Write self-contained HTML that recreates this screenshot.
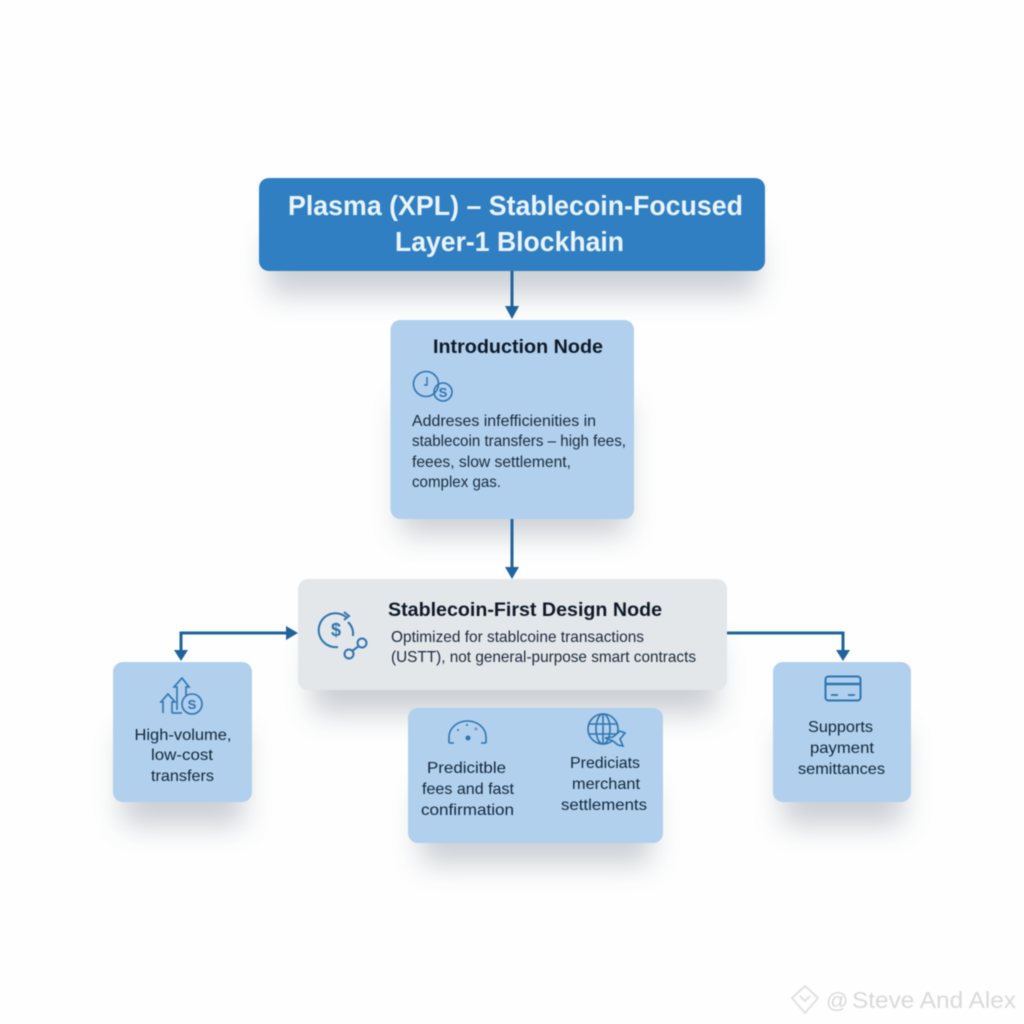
<!DOCTYPE html>
<html><head><meta charset="utf-8"><style>
html,body{margin:0;padding:0;background:#fff}
svg{display:block;filter:blur(.4px)}
text{font-family:"Liberation Sans",sans-serif;fill:#14202e}
.t{font-weight:bold;fill:#e9f3fb;font-size:28px}
.h{font-weight:bold;font-size:19px;fill:#0f1a28}
.b{font-size:16px;fill:#1b2a3c}
.c{font-size:16px;fill:#14263a}
.i{fill:none;stroke:#2f74b0;stroke-width:1.6}
.l{fill:none;stroke:#1f639e;stroke-width:3}
.a{fill:#1f639e}
</style></head><body>
<svg width="1024" height="1024" viewBox="0 0 1024 1024" xmlns="http://www.w3.org/2000/svg">
<defs><filter id="s" x="-40%" y="-40%" width="180%" height="190%"><feGaussianBlur stdDeviation="14"/></filter></defs>
<rect width="1024" height="1024" fill="#fefefe"/>
<g fill="#87929e" filter="url(#s)" opacity=".42">
<rect x="268" y="235" width="490" height="60" rx="10"/>
<rect x="400" y="400" width="228" height="135" rx="10"/>
<rect x="312" y="640" width="405" height="74" rx="10"/>
<rect x="122" y="730" width="122" height="96" rx="10"/>
<rect x="420" y="790" width="232" height="74" rx="10"/>
<rect x="782" y="730" width="122" height="96" rx="10"/>
</g>
<rect x="259" y="178" width="506" height="93" rx="10" fill="#2f7fc2"/>
<rect x="390.500" y="320" width="243.500" height="199" rx="10" fill="#b0d0ed"/>
<rect x="298" y="579" width="429" height="111" rx="10" fill="#e3e7ea"/>
<rect x="113" y="662" width="139" height="140" rx="10" fill="#b0d0ed"/>
<rect x="408" y="708" width="255" height="135" rx="10" fill="#b0d0ed"/>
<rect x="773" y="662" width="138" height="140" rx="10" fill="#b0d0ed"/>

<path class="l" d="M512 271V308M512 519V568M288 633H181V650M727 633H843V650"/>
<path class="a" d="M505 306H519L512 319ZM505 567H519L512 579ZM286 626L298 633L286 640ZM174 650H188L181 661ZM836 650H850L843 661Z"/>

<text class="t" x="288" y="215" textLength="455" lengthAdjust="spacingAndGlyphs">Plasma (XPL) – Stablecoin-Focused</text>
<text class="t" x="395" y="251" textLength="229" lengthAdjust="spacingAndGlyphs">Layer-1 Blockhain</text>

<text class="h" x="433" y="353" textLength="170" lengthAdjust="spacingAndGlyphs">Introduction Node</text>
<text class="b" x="412" y="426" textLength="184" lengthAdjust="spacingAndGlyphs">Addreses infefficienities in</text>
<text class="b" x="412" y="446" textLength="214" lengthAdjust="spacingAndGlyphs">stablecoin transfers – high fees,</text>
<text class="b" x="412" y="467" textLength="159" lengthAdjust="spacingAndGlyphs">feees, slow settlement,</text>
<text class="b" x="412" y="487" textLength="89" lengthAdjust="spacingAndGlyphs">complex gas.</text>
<g class="i">
<circle cx="426" cy="384" r="12.500"/><circle cx="443" cy="392" r="9"/>
<path d="M427 377V385H424" stroke-width="1.400"/>
</g>
<text x="443" y="397" text-anchor="middle" style="font-size:13px;fill:#2f74b0;font-weight:bold">S</text>

<text class="h" x="388" y="616" textLength="274" lengthAdjust="spacingAndGlyphs">Stablecoin-First Design Node</text>
<text class="b" x="391" y="642" textLength="253" lengthAdjust="spacingAndGlyphs">Optimized for stablcoine transactions</text>
<text class="b" x="391" y="662" textLength="305" lengthAdjust="spacingAndGlyphs">(USTT), not general-purpose smart contracts</text>
<g class="i" style="stroke-width:2">
<path d="M346 617A17 17 0 0 0 328 615A17 17 0 0 0 338 647" style="stroke-width:2"/>
<path d="M348 622A17 17 0 0 1 353 636" style="stroke-width:2"/>
<path d="M344 612L349 616L344 620" style="stroke-width:2"/>
<circle cx="349" cy="654" r="4.500" style="stroke-width:2"/><circle cx="362" cy="643" r="4.500" style="stroke-width:2"/>
<path d="M352 651L359 646" style="stroke-width:2"/>
</g>
<text x="336" y="636" text-anchor="middle" style="font-size:18px;fill:#2f74b0;font-weight:bold">$</text>

<g class="i">
<path d="M163 713V702H161L168 694L175 702H172V713"/>
<path d="M177 710V687H174L182 678L189 687H186V696"/>
<path d="M172 713H182"/>
<circle cx="192" cy="704" r="10"/>
</g>
<text x="192" y="709" text-anchor="middle" style="font-size:13px;fill:#2f74b0;font-weight:bold">S</text>
<g text-anchor="middle">
<text class="c" x="183" y="740" textLength="97" lengthAdjust="spacingAndGlyphs">High-volume,</text>
<text class="c" x="182" y="760" textLength="62" lengthAdjust="spacingAndGlyphs">low-cost</text>
<text class="c" x="182.500" y="781" textLength="63" lengthAdjust="spacingAndGlyphs">transfers</text>

<text class="c" x="466.500" y="773" textLength="79" lengthAdjust="spacingAndGlyphs">Predicitble</text>
<text class="c" x="468" y="794" textLength="92" lengthAdjust="spacingAndGlyphs">fees and fast</text>
<text class="c" x="467.500" y="815" textLength="93" lengthAdjust="spacingAndGlyphs">confirmation</text>

<text class="c" x="605" y="768" textLength="70" lengthAdjust="spacingAndGlyphs">Prediciats</text>
<text class="c" x="606" y="789" textLength="68" lengthAdjust="spacingAndGlyphs">merchant</text>
<text class="c" x="604" y="810" textLength="86" lengthAdjust="spacingAndGlyphs">settlements</text>

<text class="c" x="840.500" y="732" textLength="65" lengthAdjust="spacingAndGlyphs">Supports</text>
<text class="c" x="842" y="753" textLength="64" lengthAdjust="spacingAndGlyphs">payment</text>
<text class="c" x="841.500" y="774" textLength="87" lengthAdjust="spacingAndGlyphs">semittances</text>
</g>

<g class="i">
<path d="M449 743V737A18.500 16 0 0 1 486 737V743M449 743H454M481 743H486"/>
</g>
<circle cx="468" cy="738" r="2.500" fill="#2f74b0"/><circle cx="458" cy="730" r="1" fill="#2f74b0"/><circle cx="467" cy="725" r="1" fill="#2f74b0"/><circle cx="476" cy="729" r="1.500" fill="#8c8fb5"/>

<g class="i">
<circle cx="603" cy="729" r="15"/>
<ellipse cx="603" cy="729" rx="7" ry="15"/>
<path d="M589 724H617M589 734H617M603 714V744"/>
</g>
<path d="M605 738L613 737L620 731L625 733L620 739L623 746L618 745L613 741Z" fill="#b0d0ed" stroke="#2f74b0" stroke-width="1.600"/>

<g class="i">
<rect x="825.500" y="676.500" width="35" height="24" rx="3" style="stroke-width:2"/>
<path d="M826 684H860" style="stroke-width:2.500"/>
<path d="M831 695H838M848 695H855" style="stroke-width:1.800"/>
</g>

<g fill="none" stroke="#e2e2e2" stroke-width="2">
<path d="M805 986L818 998L805 1013L792 998Z"/>
<path d="M800 996L805 1001L810 996"/>
</g>
<text x="826" y="1008" style="font-size:22px;fill:#dadada">@</text>
<text x="852" y="1008" textLength="164" lengthAdjust="spacingAndGlyphs" style="font-size:23px;fill:#dadada">Steve And Alex</text>
</svg>
</body></html>
